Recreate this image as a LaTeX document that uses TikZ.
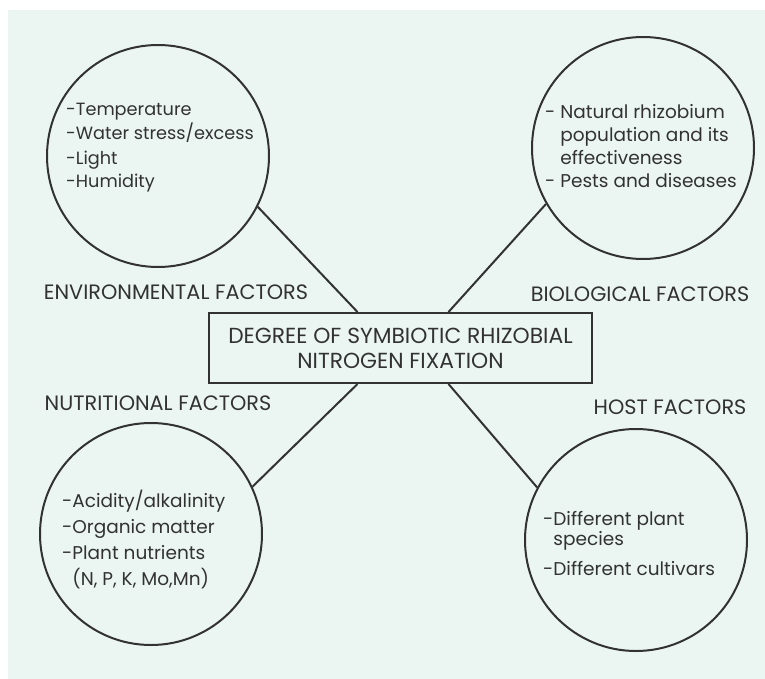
\documentclass[tikz,border=0pt]{standalone}
\usepackage{fontspec}
\setmainfont{Poppins}
\usetikzlibrary{positioning,calc}
\definecolor{mint}{RGB}{235,246,242}
\definecolor{ink}{RGB}{50,50,50}

\begin{document}
\begin{tikzpicture}[x=1pt,y=-1pt,
	factor/.style={draw=ink,circle,line width=2pt,minimum size=222pt,inner sep=0pt},
	items/.style={anchor=base west,align=left,inner sep=0pt,text=ink,font=\fontsize{18.5}{24}\selectfont},
	heading/.style={inner sep=0pt,text=ink,font=\fontsize{20.8}{24}\selectfont},
	link/.style={draw=ink,line width=2pt}]
% page and paper
\fill[white] (0,0) rectangle (765,679);
\fill[mint] (8,10) rectangle (765,679);

% centre box
\node[draw=ink,line width=2pt,minimum width=383pt,minimum height=70pt,align=center,
	text=ink,font=\fontsize{21.8}{25}\selectfont] (degree) at (400.5,348)
	{DEGREE OF SYMBIOTIC RHIZOBIAL\\NITROGEN FIXATION};

% the four circles
\node[factor] (env) at (158,156) {};
\node[factor] (bio) at (643,148) {};
\node[factor] (nut) at (151,534) {};
\node[factor] (host) at (636,540) {};

% lists (anchored on the last baseline)
\node[items,font=\fontsize{17.7}{24}\selectfont] (envlist) at (66,188)
	{-Temperature\\-Water stress/excess\\-Light\\-Humidity};
\node[items,font=\fontsize{18.5}{23.3}\selectfont] (biolist) at (545,188)
	{- Natural rhizobium\\\hphantom{- }population and its\\\hphantom{- }effectiveness\\- Pests and diseases};
\node[items,font=\fontsize{18.5}{26}\selectfont] (nutlist) at (62,585)
	{-Acidity/alkalinity\\-Organic matter\\-Plant nutrients\\\hphantom{-}(N, P, K, Mo,Mn)};
\node[items] (hostlist) at (543,575)
	{-Different plant\\[-4pt]\hphantom{-}species\\[6pt]-Different cultivars};

\node[heading] (envlabel) at (176,292) {ENVIRONMENTAL FACTORS};
\node[heading] (biolabel) at (640,294) {BIOLOGICAL FACTORS};
\node[heading] (nutlabel) at (158,403) {NUTRITIONAL FACTORS};
\node[heading] (hostlabel) at (670,407) {HOST FACTORS};

\draw[link] (env.-27) -- ([xshift=-43pt]degree.north);
\draw[link] (bio.-150) -- ([xshift=48pt]degree.north);
\draw[link] (nut.25) -- ([xshift=-43pt]degree.south);
\draw[link] (host.152) -- ([xshift=48pt]degree.south);
\end{tikzpicture}
\end{document}
